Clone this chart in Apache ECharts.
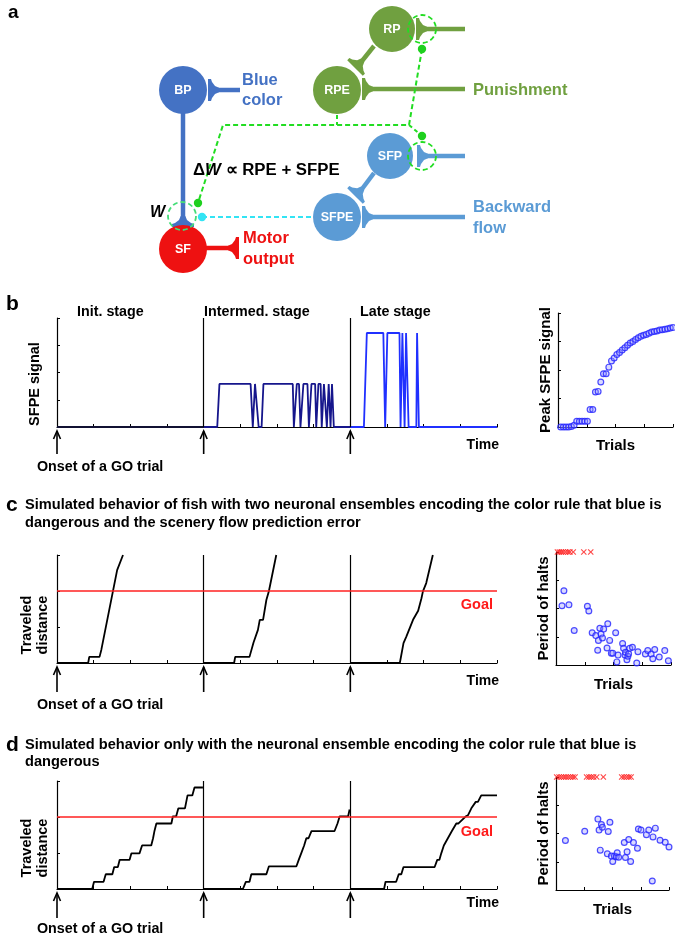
<!DOCTYPE html>
<html><head><meta charset="utf-8">
<script src="https://cdn.jsdelivr.net/npm/echarts@6/dist/echarts.min.js"></script>
<style>html,body{margin:0;padding:0;background:#fff}#c{width:675px;height:935px}</style>
</head><body><div id="c"></div>
<script>
const FONT = '"Liberation Sans", Arial, sans-serif';

// ---------- Panel b data ----------
const trialOnsets = [0, 4, 8];
const stageLabels = ['Init. stage', 'Intermed. stage', 'Late stage'];
const sfpeInit = [[0,0],[4,0]];
const sfpeInter = [[4,0],[4.37,0],[4.43,1.58],[5.28,1.58],[5.34,0],[5.37,0],[5.40,1.58],[5.45,1.58],[5.50,0],[5.58,0],[5.63,1.58],[6.43,1.58],[6.46,0],[6.51,0],[6.54,1.58],[6.60,1.58],[6.64,0],[6.69,0],[6.72,1.58],[6.83,1.58],[6.87,0],[6.91,0],[6.94,1.58],[7.04,1.58],[7.07,0],[7.10,0],[7.13,1.58],[7.19,1.58],[7.22,0],[7.25,0],[7.28,1.58],[7.33,1.58],[7.36,0],[7.38,0],[7.41,1.58],[7.44,1.58],[7.46,0],[7.48,0],[7.50,1.58],[7.52,1.58],[7.55,0],[8,0]];
const sfpeLate = [[8,0],[8.37,0],[8.45,3.45],[8.90,3.45],[8.95,0],[8.97,0],[9.01,3.45],[9.34,3.45],[9.37,0],[9.40,0],[9.42,3.45],[9.46,3.45],[9.48,0],[9.50,0],[9.52,3.45],[9.56,3.45],[9.59,0],[9.80,0],[9.82,3.45],[9.87,0],[12,0]];
const peakTrials = [1,2,3,4,5,6,7,8,9,10,11,12,13,14,15,16,17,18,19,20,21,22,23,24,25,26,27,28,29,30,31,32,33,34,35,36,37,38,39,40,41,42,43];
const peakSfpe = [0,0,0,0,0.02,0.06,0.2,0.2,0.2,0.2,0.2,0.61,0.61,1.23,1.25,1.58,1.87,1.87,2.1,2.32,2.42,2.54,2.61,2.7,2.78,2.87,2.95,3.0,3.07,3.13,3.18,3.22,3.25,3.29,3.33,3.35,3.37,3.4,3.41,3.43,3.45,3.47,3.49];

// ---------- Panel c data ----------
const goalDistance = 2;
const cTrial1 = [[0,0],[0.85,0],[0.88,0.17],[1.16,0.17],[1.21,0.37],[1.64,2.58],[1.69,2.62],[1.80,3.0]];
const cTrial2 = [[4,0],[4.83,0],[4.86,0.17],[5.25,0.17],[5.36,0.57],[5.40,0.62],[5.48,0.92],[5.53,1.2],[5.62,1.2],[5.71,1.75],[5.78,2.0],[5.98,3.0]];
const cTrial3 = [[8,0],[9.35,0],[9.45,0.55],[9.53,0.74],[9.58,0.78],[9.71,1.2],[9.76,1.22],[9.85,1.45],[9.94,1.8],[9.98,1.99],[10.07,2.22],[10.25,3.0]];
const cHaltTrials  = [3.3,2.5,5.4,7.6,13.1,13.7,15.1,16.6,17.4,17.7,18.3,18.8,19.4,19.9,21.3,21.6,22.4,23.1,23.7,24.9,25.4,25.9,27.8,28.2,28.8,29.0,29.6,30.0,30.3,30.8,31.9,33.7,34.2,37.3,38.3,39.7,40.4,41.2,43.1,45.4,46.9];
const cHaltPeriods = [2.63,2.10,2.13,1.22,2.08,1.91,1.14,1.04,0.52,0.87,1.30,1.10,0.96,1.27,0.60,1.46,0.87,0.42,0.42,1.14,0.11,0.35,0.76,0.59,0.35,0.45,0.19,0.31,0.40,0.59,0.63,0.07,0.47,0.39,0.51,0.39,0.22,0.55,0.28,0.51,0.15];
const cNoGoalTrials = [0.6,1.4,2.2,3.0,4.0,5.0,5.8,7.2,11.6,14.5];

// ---------- Panel d data ----------
const dTrial1 = [[0,0],[0.96,0],[1.01,0.20],[1.27,0.20],[1.33,0.41],[1.51,0.41],[1.56,0.61],[1.66,0.61],[1.71,0.81],[1.98,0.81],[2.03,0.99],[2.25,0.99],[2.32,1.21],[2.57,1.21],[2.62,1.41],[2.66,1.62],[2.71,1.82],[3.12,1.82],[3.16,2.02],[3.25,2.02],[3.31,2.24],[3.49,2.24],[3.56,2.60],[3.69,2.60],[3.75,2.82],[3.98,2.82]];
const dTrial2 = [[4,0],[5.07,0],[5.15,0.20],[5.25,0.20],[5.30,0.41],[5.71,0.41],[5.78,0.63],[6.53,0.63],[6.60,0.83],[6.63,0.83],[6.66,0.99],[6.70,0.99],[6.74,1.21],[6.77,1.21],[6.80,1.41],[6.86,1.41],[6.94,1.61],[7.57,1.61],[7.65,1.82],[7.71,2.02],[7.94,2.02],[7.98,2.21]];
const dTrial3 = [[8,0],[8.92,0],[8.96,0.20],[9.25,0.20],[9.32,0.41],[9.39,0.41],[9.45,0.61],[10.30,0.61],[10.37,0.81],[10.43,0.81],[10.48,0.99],[10.52,0.99],[10.55,1.21],[10.60,1.21],[10.66,1.41],[10.70,1.41],[10.77,1.61],[10.82,1.61],[10.89,1.82],[10.95,1.82],[11.15,2.02],[11.21,2.05],[11.30,2.24],[11.35,2.24],[11.42,2.42],[11.48,2.42],[11.57,2.60],[12,2.60]];
const dHaltTrials  = [4.0,12.2,17.8,18.3,18.8,19.3,19.7,21.8,22.2,22.9,23.5,24.1,24.8,25.6,26.0,26.6,29.0,29.5,30.2,30.9,31.7,32.9,34.6,35.0,36.1,38.4,39.4,40.9,41.2,42.2,44.2,46.4,48.0];
const dHaltPeriods = [1.75,2.08,2.51,2.12,1.41,2.32,2.22,1.28,2.07,2.40,1.20,1.01,1.20,1.18,1.32,1.16,1.68,1.15,1.35,1.79,1.01,1.68,1.48,2.16,2.12,1.96,2.12,0.32,1.88,2.19,1.76,1.69,1.52];
const dNoGoalTrials = [0.3,1.3,2.3,3.3,4.2,5.2,6.2,7.2,8.1,13.0,14.0,15.0,16.0,17.3,20.1,27.9,28.9,30.0,31.0,31.9];

// ---------- styles ----------
const BLUE = '#4472C4', GREEN = '#70A040', LBLUE = '#5B9BD5', RED = '#EE1111';
const DASHG = '#22DD22', CYAN = '#33E4F4';
const XSYM = 'path://M0,1.3L1.3,0L5,3.7L8.7,0L10,1.3L6.3,5L10,8.7L8.7,10L5,6.3L1.3,10L0,8.7L3.7,5Z';

const chart = echarts.init(document.getElementById('c'));

function ax(gridIndex, min, max, interval, extra) {
  return Object.assign({
    type: 'value', gridIndex, min, max, interval,
    axisLine: { show: true, onZero: false, lineStyle: { color: '#000', width: 1.2 } },
    axisTick: { show: true, inside: true, length: 3, lineStyle: { color: '#000', width: 1 } },
    axisLabel: { show: false }, splitLine: { show: false },
    nameTextStyle: { fontFamily: FONT, fontWeight: 'bold', fontSize: 15, color: '#000' }
  }, extra || {});
}
function lineS(idx, data, color, markLine) {
  const s = { type: 'line', xAxisIndex: idx, yAxisIndex: idx, data, showSymbol: false, symbol: 'none',
    lineStyle: { color, width: 1.8 }, itemStyle: { color }, silent: true, z: 3 };
  if (markLine) s.markLine = markLine;
  return s;
}
function dividers(withGoal) {
  const data = trialOnsets.slice(1).map(v => ({ xAxis: v, lineStyle: { color: '#000', width: 1.2, type: 'solid' } }));
  if (withGoal) data.push({ yAxis: goalDistance, lineStyle: { color: '#FF2020', width: 1.5, type: 'solid' } });
  return { symbol: 'none', silent: true, label: { show: false }, animation: false, data };
}
function circS(idx, xs, ys) {
  return { type: 'scatter', xAxisIndex: idx, yAxisIndex: idx, data: xs.map((x, i) => [x, ys[i]]),
    symbol: 'circle', symbolSize: 5.8, clip: false,
    itemStyle: { color: 'rgba(150,150,255,0.45)', borderColor: '#2222FF', borderWidth: 1.2 }, silent: true, z: 4 };
}
function xS(idx, xs, yTop) {
  return { type: 'scatter', xAxisIndex: idx, yAxisIndex: idx, data: xs.map(x => [x, yTop]),
    symbol: XSYM, symbolSize: 6, clip: false, itemStyle: { color: '#FF1A1A' }, silent: true, z: 5 };
}

const option = {
  animation: false,
  backgroundColor: '#fff',
  textStyle: { fontFamily: FONT },
  grid: [
    { left: 57, top: 318, width: 440, height: 109 },
    { left: 558, top: 313, width: 115, height: 114 },
    { left: 57, top: 555, width: 440, height: 108 },
    { left: 556, top: 552, width: 115, height: 113 },
    { left: 57, top: 781, width: 440, height: 108 },
    { left: 556, top: 777, width: 113, height: 113 }
  ],
  xAxis: [
    ax(0, 0, 12, 1),
    ax(1, 0, 43, 10.75, { name: 'Trials', nameLocation: 'middle', nameGap: 11 }),
    ax(2, 0, 12, 1),
    ax(3, 0, 48, 12, { name: 'Trials', nameLocation: 'middle', nameGap: 12 }),
    ax(4, 0, 12, 1),
    ax(5, 0, 48, 12, { name: 'Trials', nameLocation: 'middle', nameGap: 12 })
  ],
  yAxis: [
    ax(0, 0, 4, 1),
    ax(1, 0, 4, 1, { name: 'Peak SFPE signal', nameLocation: 'middle', nameGap: 5 }),
    ax(2, 0, 3, 1),
    ax(3, 0, 4, 1, { name: 'Period of halts', nameLocation: 'middle', nameGap: 5 }),
    ax(4, 0, 3, 1),
    ax(5, 0, 4, 1, { name: 'Period of halts', nameLocation: 'middle', nameGap: 5 })
  ],
  series: [
    lineS(0, sfpeInit, '#111133', dividers(false)),
    lineS(0, sfpeInter, '#16168C'),
    lineS(0, sfpeLate, '#2030FF'),
    circS(1, peakTrials, peakSfpe),
    lineS(2, cTrial1, '#000', dividers(true)),
    lineS(2, cTrial2, '#000'),
    lineS(2, cTrial3, '#000'),
    circS(3, cHaltTrials, cHaltPeriods),
    xS(3, cNoGoalTrials, 4),
    lineS(4, dTrial1, '#000', dividers(true)),
    lineS(4, dTrial2, '#000'),
    lineS(4, dTrial3, '#000'),
    circS(5, dHaltTrials, dHaltPeriods),
    xS(5, dNoGoalTrials, 4)
  ]
};
chart.setOption(option);

// ---------- annotations (diagram + text) ----------
const G = [];
function txt(x, y, text, font, fill, align, vAlign, rot, lh) {
  G.push({ type: 'text', x, y, rotation: rot || 0, silent: true, z: 10,
    style: { text, font, fill: fill || '#000', align: align || 'left', verticalAlign: vAlign || 'middle',
      textAlign: align || 'left', textVerticalAlign: vAlign || 'middle', lineHeight: lh || undefined } });
}
const B = (s) => 'bold ' + s + 'px ' + FONT;

// arrows + onset text + time
const rows = [
  { grid: 0, tip: 431, end: 454, text: 467, time: 445 },
  { grid: 2, tip: 667, end: 692, text: 705, time: 681 },
  { grid: 4, tip: 893, end: 918, text: 929, time: 903 }
];
rows.forEach(r => {
  trialOnsets.forEach(t => {
    const px = chart.convertToPixel({ xAxisIndex: r.grid }, t);
    G.push({ type: 'line', silent: true, shape: { x1: px, y1: r.tip, x2: px, y2: r.end }, style: { stroke: '#000', lineWidth: 1.6 } });
    G.push({ type: 'polyline', silent: true, shape: { points: [[px - 3.5, r.tip + 8], [px, r.tip], [px + 3.5, r.tip + 8]] }, style: { stroke: '#000', lineWidth: 1.6, fill: null } });
  });
  txt(37, r.text, 'Onset of a GO trial', B(14.3));
  txt(499, r.time, 'Time', B(14));
  G[G.length - 1].style.align = 'right'; G[G.length - 1].style.textAlign = 'right';
});
// stage labels
const stageX = [77, 204, 360];
stageLabels.forEach((s, i) => txt(stageX[i], 312, s, B(14.3)));
txt(35, 384, 'SFPE signal', B(14.5), '#000', 'center', 'middle', Math.PI / 2);
txt(35, 625, 'Traveled\ndistance', B(14.5), '#000', 'center', 'middle', Math.PI / 2, 16);
txt(35, 848, 'Traveled\ndistance', B(14.5), '#000', 'center', 'middle', Math.PI / 2, 16);
txt(493, 605, 'Goal', B(14.5), '#FF1A1A', 'right');
txt(493, 832, 'Goal', B(14.5), '#FF1A1A', 'right');
// panel letters & titles
txt(8, 13, 'a', B(19));
txt(6, 304, 'b', B(21));
txt(6, 505, 'c', B(21));
txt(6, 745, 'd', B(21));
txt(25, 505, 'Simulated behavior of fish with two neuronal ensembles encoding the color rule that blue is', B(14.6));
txt(25, 523, 'dangerous and the scenery flow prediction error', B(14.6));
txt(25, 745, 'Simulated behavior only with the neuronal ensemble encoding the color rule that blue is', B(14.6));
txt(25, 762, 'dangerous', B(14.6));

// ---------- diagram ----------
function line(x1, y1, x2, y2, stroke, w, dash) {
  G.push({ type: 'line', silent: true, shape: { x1, y1, x2, y2 }, style: { stroke, lineWidth: w, lineDash: dash || null } });
}
function syn(x, y, rot, color) {
  G.push({ type: 'polygon', silent: true, x, y, rotation: rot,
    shape: { points: [[0,-11],[3,-11],[4,-8],[7,-4],[11,-2.3],[11,2.3],[7,4],[4,8],[3,11],[0,11]] }, style: { fill: color } });
}
function neuron(cx, cy, r, color, label) {
  G.push({ type: 'circle', silent: true, shape: { cx, cy, r }, style: { fill: color } });
  txt(cx, cy + 1, label, B(12.5), '#fff', 'center', 'middle');
}
// axons
line(183, 110, 183, 218, BLUE, 4.5);
syn(183, 227, Math.PI / 2, BLUE);
line(218, 90, 240, 90, BLUE, 4.5);
syn(208, 90, 0, BLUE);
line(426, 29, 465, 29, GREEN, 4.5);
syn(416, 29, 0, GREEN);
line(372, 89, 465, 89, GREEN, 4.5);
syn(362, 89, 0, GREEN);
line(374, 46, 362, 61, GREEN, 4.5);
syn(355, 68, Math.PI / 4, GREEN);
line(427, 156, 465, 156, LBLUE, 4.5);
syn(417, 156, 0, LBLUE);
line(372, 217, 465, 217, LBLUE, 4.5);
syn(362, 217, 0, LBLUE);
line(374, 173, 362, 189, LBLUE, 4.5);
syn(355, 196, Math.PI / 4, LBLUE);
line(200, 248, 229, 248, RED, 4.5);
syn(239, 248, Math.PI, RED);
// neurons
neuron(392, 29, 23, GREEN, 'RP');
neuron(337, 90, 24, GREEN, 'RPE');
neuron(183, 90, 24, BLUE, 'BP');
neuron(390, 156, 23, LBLUE, 'SFP');
neuron(337, 217, 24, LBLUE, 'SFPE');
neuron(183, 249, 24, RED, 'SF');
// dashed teaching signals
G.push({ type: 'polyline', silent: true, shape: { points: [[422, 49], [409, 125], [223, 125], [198, 203]] },
  style: { stroke: DASHG, lineWidth: 2, lineDash: [5, 3], fill: null } });
line(337, 115, 337, 125, DASHG, 2, [4, 3]);
line(409, 125, 422, 136, DASHG, 2, [4, 3]);
line(202, 217, 312, 217, CYAN, 2, [5, 3]);
[[422, 29], [422, 156]].forEach(p => G.push({ type: 'circle', silent: true, shape: { cx: p[0], cy: p[1], r: 14 }, style: { stroke: DASHG, lineWidth: 1.8, lineDash: [5, 3], fill: null } }));
G.push({ type: 'circle', silent: true, shape: { cx: 182, cy: 216, r: 14 }, style: { stroke: '#44DD77', lineWidth: 1.8, lineDash: [5, 3], fill: null } });
[[422, 49], [422, 136], [198, 203]].forEach(p => G.push({ type: 'circle', silent: true, shape: { cx: p[0], cy: p[1], r: 4.2 }, style: { fill: '#1ED01E' } }));
G.push({ type: 'circle', silent: true, shape: { cx: 202, cy: 217, r: 4.2 }, style: { fill: CYAN } });
// labels
txt(242, 80, 'Blue', B(16.5), BLUE);
txt(242, 100, 'color', B(16.5), BLUE);
txt(473, 90, 'Punishment', B(16.5), GREEN);
txt(473, 207, 'Backward', B(16.5), LBLUE);
txt(473, 228, 'flow', B(16.5), LBLUE);
txt(243, 238, 'Motor', B(16.5), RED);
txt(243, 259, 'output', B(16.5), RED);
G.push({ type: 'text', x: 193, y: 170, silent: true, z: 10,
  style: { text: '{a|Δ}{w|W}{a| ∝ RPE + SFPE}', verticalAlign: 'middle', textVerticalAlign: 'middle',
    rich: { a: { font: B(16.8), fill: '#000', color: '#000' }, w: { font: 'italic bold 16.8px ' + FONT, fill: '#000', color: '#000' } } } });
txt(150, 213, 'W', 'italic bold 16px ' + FONT);

chart.setOption({ graphic: { elements: G } });
</script>
</body></html>
